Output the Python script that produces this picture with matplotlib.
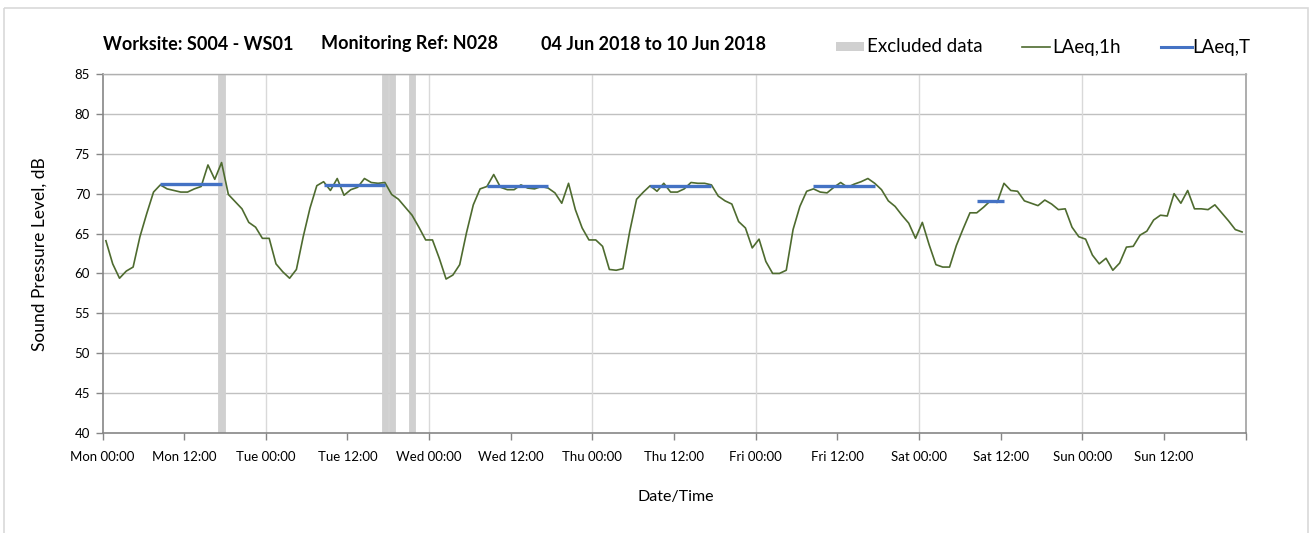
import matplotlib
matplotlib.use("Agg")
import matplotlib.pyplot as plt
from matplotlib.patches import Rectangle
from matplotlib.lines import Line2D

# ---------------- data ----------------
day_names = ["Mon", "Tue", "Wed", "Thu", "Fri", "Sat", "Sun"]
tick_labels = [f"{d} {t}" for d in day_names for t in ("00:00", "12:00")]

laeq_1h_mon = [64.1, 61.2, 59.4, 60.3, 60.8, 64.6, 67.5, 70.2, 71.1, 70.6, 70.4, 70.2,
               70.2, 70.6, 70.9, 73.6, 71.8, 73.9, 69.9, 69.0, 68.1, 66.4, 65.8, 64.4]
laeq_1h_tue = [64.4, 61.2, 60.2, 59.4, 60.5, 64.6, 68.2, 71.0, 71.5, 70.4, 71.9, 69.8,
               70.5, 70.8, 71.9, 71.4, 71.3, 71.4, 69.9, 69.3, 68.3, 67.3, 65.8, 64.2]
laeq_1h_wed = [64.2, 61.9, 59.3, 59.8, 61.1, 65.1, 68.6, 70.6, 70.9, 72.4, 70.8, 70.5,
               70.5, 71.1, 70.7, 70.6, 70.9, 70.7, 70.1, 68.8, 71.3, 68.0, 65.7, 64.2]
laeq_1h_thu = [64.2, 63.4, 60.5, 60.4, 60.6, 65.3, 69.3, 70.2, 71.0, 70.3, 71.3, 70.2,
               70.2, 70.6, 71.4, 71.3, 71.3, 71.1, 69.7, 69.1, 68.7, 66.5, 65.7, 63.2]
laeq_1h_fri = [64.3, 61.5, 60.0, 60.0, 60.4, 65.5, 68.4, 70.3, 70.6, 70.2, 70.1, 70.8,
               71.4, 70.8, 71.2, 71.5, 71.9, 71.3, 70.5, 69.1, 68.4, 67.3, 66.3, 64.4]
laeq_1h_sat = [66.4, 63.6, 61.1, 60.8, 60.8, 63.5, 65.6, 67.6, 67.6, 68.3, 69.1, 68.9,
               71.3, 70.4, 70.3, 69.1, 68.8, 68.5, 69.2, 68.7, 68.0, 68.1, 65.8, 64.6]
laeq_1h_sun = [64.3, 62.3, 61.2, 61.9, 60.4, 61.3, 63.3, 63.4, 64.8, 65.3, 66.7, 67.3,
               67.2, 70.0, 68.8, 70.4, 68.1, 68.1, 68.0, 68.6, 67.6, 66.6, 65.5, 65.2]

excluded_hours = [17, 41, 42, 45]

laeq_t_start = [8, 32, 56, 80, 104, 128]
laeq_t_end = [17, 41, 65, 89, 113, 132]
laeq_t_value = [71.2, 71.1, 70.9, 70.9, 71.0, 69.1]

title_parts = ["Worksite: S004 - WS01", "Monitoring Ref: N028", "04 Jun 2018 to 10 Jun 2018"]

# ---------------- figure ----------------
W, H = 1309, 533
fig = plt.figure(figsize=(W / 100, H / 100), dpi=100)
FONT = ["Lato", "DejaVu Sans"]
plt.rcParams["font.family"] = FONT

# overlay for border / title / legend (pixel coordinates)
ov = fig.add_axes([0, 0, 1, 1])
ov.set_xlim(0, W)
ov.set_ylim(H, 0)
ov.axis("off")
ov.add_patch(Rectangle((4, 8), 1303.5, 540, fill=False, edgecolor="#d9d9d9", lw=1.2))

for xpos, part in zip([103, 321, 541], title_parts):
    ov.text(xpos, 44, part, fontsize=13, fontweight="bold", color="#000000",
            va="center", ha="left")

ov.add_patch(Rectangle((836, 42), 28, 9, color="#d0d0d0", lw=0))
ov.text(867, 47, "Excluded data", fontsize=13.5, va="center", ha="left", color="#000000")
ov.add_line(Line2D([1022, 1050], [47, 47], color="#4E6B2F", lw=1.2))
ov.text(1052, 47, "LAeq,1h", fontsize=13.5, va="center", ha="left", color="#000000")
ov.add_line(Line2D([1161, 1192], [47, 47], color="#4472C4", lw=2.2))
ov.text(1192, 47, "LAeq,T", fontsize=13.5, va="center", ha="left", color="#000000")

ov.text(40, 254, "Sound Pressure Level, dB", fontsize=12.5, rotation=90,
        ha="center", va="center", color="#000000")
ov.text(676, 497, "Date/Time", fontsize=11.5, ha="center", va="center", color="#000000")

# main axes
left, right, top, bottom = 102.5, 1245.5, 74, 433
ax = fig.add_axes([left / W, (H - bottom) / H, (right - left) / W, (bottom - top) / H])

laeq_1h = laeq_1h_mon + laeq_1h_tue + laeq_1h_wed + laeq_1h_thu + laeq_1h_fri + laeq_1h_sat + laeq_1h_sun
xs = [i + 0.5 for i in range(len(laeq_1h))]

ax.bar([h + 0.5 for h in excluded_hours], [45] * len(excluded_hours), bottom=40,
       width=0.92, color="#d0d0d0", edgecolor="#d0d0d0", lw=0.6, zorder=1)
ax.plot(xs, laeq_1h, color="#4E6B2F", lw=1.2, zorder=3)
for s, e, v in zip(laeq_t_start, laeq_t_end, laeq_t_value):
    ax.plot([s + 0.5, e + 0.5], [v, v], color="#4472C4", lw=2.4, zorder=4, solid_capstyle="butt")

ax.set_xlim(0, 168)
ax.set_ylim(40, 85)
ax.set_yticks(range(40, 86, 5))
ax.set_xticks(range(0, 169, 12))
ax.set_xticklabels(tick_labels + [""])

for y in range(45, 86, 5):
    ax.axhline(y, color="#c0c0c0", lw=1.0, zorder=0)
for d in range(24, 168, 24):
    ax.axvline(d, color="#d9d9d9", lw=1.0, zorder=0)

for side in ("left", "bottom"):
    ax.spines[side].set_color("#868686")
    ax.spines[side].set_linewidth(1.2)
ax.spines["top"].set_color("#b0b0b0")
ax.spines["top"].set_linewidth(1.0)
ax.spines["right"].set_color("#a0a0a0")
ax.spines["right"].set_linewidth(1.2)

ax.tick_params(axis="both", direction="out", length=5, width=1, color="#868686",
               labelsize=9.5, labelcolor="#000000")
ax.tick_params(axis="x", pad=8)
ax.tick_params(axis="y", pad=4)

fig.savefig("out.png", dpi=100)
